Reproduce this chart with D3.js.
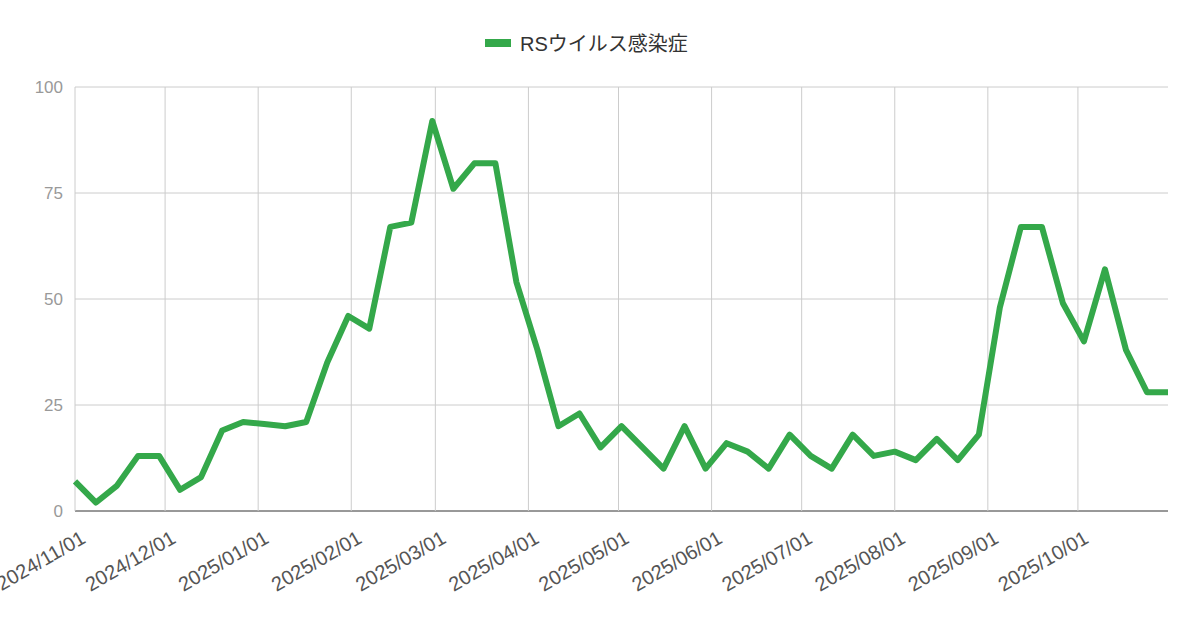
<!DOCTYPE html>
<html lang="ja">
<head>
<meta charset="UTF-8">
<title>RSウイルス感染症</title>
<script src="https://cdn.jsdelivr.net/npm/d3@7"></script>
<style>
    body{margin:0;background:#fff;font-family:"Liberation Sans","Noto Sans CJK JP",sans-serif;}
</style>
</head>
<body>
<svg id="chart" width="1200" height="626"></svg>
<script>
    var seriesName = "RSウイルス感染症";
    var startDate = "2024-11-01";
    var values = [7,2,6,13,13,5,8,19,21,20.5,20,21,35,46,43,67,68,92,76,82,
                  82,54,38,20,23,15,20,15,10,20,10,16,14,10,18,13,10,18,13,14,
                  12,17,12,18,48,67,67,49,40,57,38,28,28];
    var yTicks = [0,25,50,75,100];
    var monthTicks = ["2024/11/01","2024/12/01","2025/01/01","2025/02/01","2025/03/01","2025/04/01",
                      "2025/05/01","2025/06/01","2025/07/01","2025/08/01","2025/09/01","2025/10/01"];

    var parse = d3.timeParse("%Y-%m-%d");
    var parseTick = d3.timeParse("%Y/%m/%d");
    var d0 = parse(startDate);
    var data = values.map(function(v,i){ return {date:d3.timeDay.offset(d0,i*7), value:v}; });

    var svg = d3.select("#chart");
    var x = d3.scaleTime().domain([d0, data[data.length-1].date]).range([75,1168]);
    var y = d3.scaleLinear().domain([0,100]).range([511,87]);

    svg.selectAll(".hgrid").data(yTicks).enter().append("line")
        .attr("x1",75).attr("x2",1168)
        .attr("y1",function(d){return y(d);}).attr("y2",function(d){return y(d);})
        .attr("stroke",function(d){return d===0?"#333":"#ccc";}).attr("stroke-width",1);
    svg.selectAll(".vgrid").data(monthTicks).enter().append("line")
        .attr("x1",function(d){return x(parseTick(d));}).attr("x2",function(d){return x(parseTick(d));})
        .attr("y1",87).attr("y2",511).attr("stroke","#ccc");

    svg.selectAll(".ylab").data(yTicks).enter().append("text")
        .attr("x",63).attr("y",function(d){return y(d)+6;})
        .attr("text-anchor","end").attr("fill","#999").attr("font-size",17)
        .text(function(d){return d;});

    svg.selectAll(".xlab").data(monthTicks).enter().append("text")
        .attr("transform",function(d){return "translate("+(x(parseTick(d))+4)+",528) rotate(-30)";})
        .attr("text-anchor","end").attr("dy","0.8em").attr("fill","#555").attr("font-size",20)
        .text(function(d){return d;});

    var line = d3.line().x(function(d){return x(d.date);}).y(function(d){return y(d.value);});
    svg.append("path").datum(data).attr("d",line)
        .attr("fill","none").attr("stroke","#34a84a").attr("stroke-width",6)
        .attr("stroke-linejoin","round");

    svg.append("rect").attr("x",485).attr("y",39).attr("width",26).attr("height",8).attr("fill","#34a84a");
    svg.append("text").attr("x",520).attr("y",51).attr("fill","#333").attr("font-size",20).text(seriesName);
</script>
</body>
</html>
